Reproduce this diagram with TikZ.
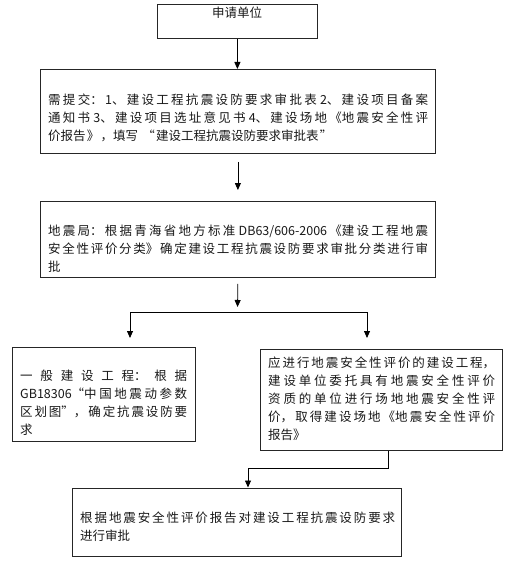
\documentclass[tikz,border=0pt]{standalone}
\usepackage{fontspec}
\newfontfamily\cjk{Noto Sans CJK SC}
\usetikzlibrary{arrows.meta}
\XeTeXlinebreaklocale "zh"
\XeTeXlinebreakskip=0pt plus 8pt
\tolerance=10000
\hbadness=10000
\begin{document}
\begin{tikzpicture}[x=1pt,y=-1pt,
  box/.style={draw=black!85, line width=0.8pt, inner sep=0pt, anchor=north west},
  txt/.style={inner sep=0pt, anchor=base west, align=justify, text=black!90,
    font=\cjk\fontsize{12.5pt}{18pt}\selectfont},
  plain/.style={line width=0.8pt},
  conn/.style={line width=0.8pt, -{Triangle[length=7pt,width=6pt]}}]
\useasboundingbox[fill=white] (0,0) rectangle (507,578);

% boxes
\node[box, minimum width=160pt, minimum height=34pt] (b1) at (157,4) {};
\node[box, minimum width=395pt, minimum height=84pt] (b2) at (40,69) {};
\node[box, minimum width=395pt, minimum height=76pt] (b3) at (40,201) {};
\node[box, minimum width=183pt, minimum height=94pt] (b4) at (12,347) {};
\node[box, minimum width=242pt, minimum height=101pt] (b5) at (260,349) {};
\node[box, minimum width=329pt, minimum height=68pt] (b6) at (72,488) {};

% texts
\node[inner sep=0pt, text=black!90, font=\cjk\fontsize{12.5pt}{18pt}\selectfont] (t1) at (237,13) {申请单位};
\node[txt, text width=380pt] (t2) at (48,104) {需提交：1、建设工程抗震设防要求审批表 2、建设项目备案\linebreak 通知书 3、建设项目选址意见书 4、建设场地《地震安全性评\linebreak {\addfontfeature{LetterSpace=10}价报告》，填写 “建设工程抗震设防要求审批表”}};
\node[txt, text width=380pt] (t3) at (48,235) {地震局：根据青海省地方标准 DB63/606-2006《建设工程地震\linebreak 安全性评价分类》确定建设工程抗震设防要求审批分类进行审\linebreak 批};
\node[txt, text width=167pt] (t4) at (20,380) {一般建设工程：根据\linebreak GB18306“中国地震动参数\linebreak 区划图”，确定抗震设防要\linebreak 求};
\node[txt, text width=227pt] (t5) at (268,367) {应进行地震安全性评价的建设工程，\linebreak 建设单位委托具有地震安全性评价\linebreak 资质的单位进行场地地震安全性评\linebreak 价，取得建设场地《地震安全性评价\linebreak 报告》};
\node[txt, text width=315pt] (t6) at (80,522) {根据地震安全性评价报告对建设工程抗震设防要求\linebreak {\addfontfeature{LetterSpace=10}进行审批}};

% connectors
\draw[conn] (b1.south) -- (b1.south |- b2.north);
\draw[conn, shorten <=8pt, shorten >=11pt] (b2.south) -- (b3.north);
\coordinate (split) at (237.5,312);
\coordinate (sl) at (130,312);
\coordinate (sr) at (367,312);
\draw[conn, shorten <=6pt, shorten >=5pt] (b3.south) -- (split);
\draw[plain] (sl) -- (sr);
\draw[conn, shorten >=9pt] (sl) -- (sl |- b4.north);
\draw[conn, shorten >=11pt] (sr) -- (sr |- b5.north);
\coordinate (k1) at (388,468);
\coordinate (k2) at (248,468);
\draw[conn, shorten >=0.5pt] (k1 |- b5.south) -- (k1) -- (k2) -- (k2 |- b6.north);
\end{tikzpicture}
\end{document}
